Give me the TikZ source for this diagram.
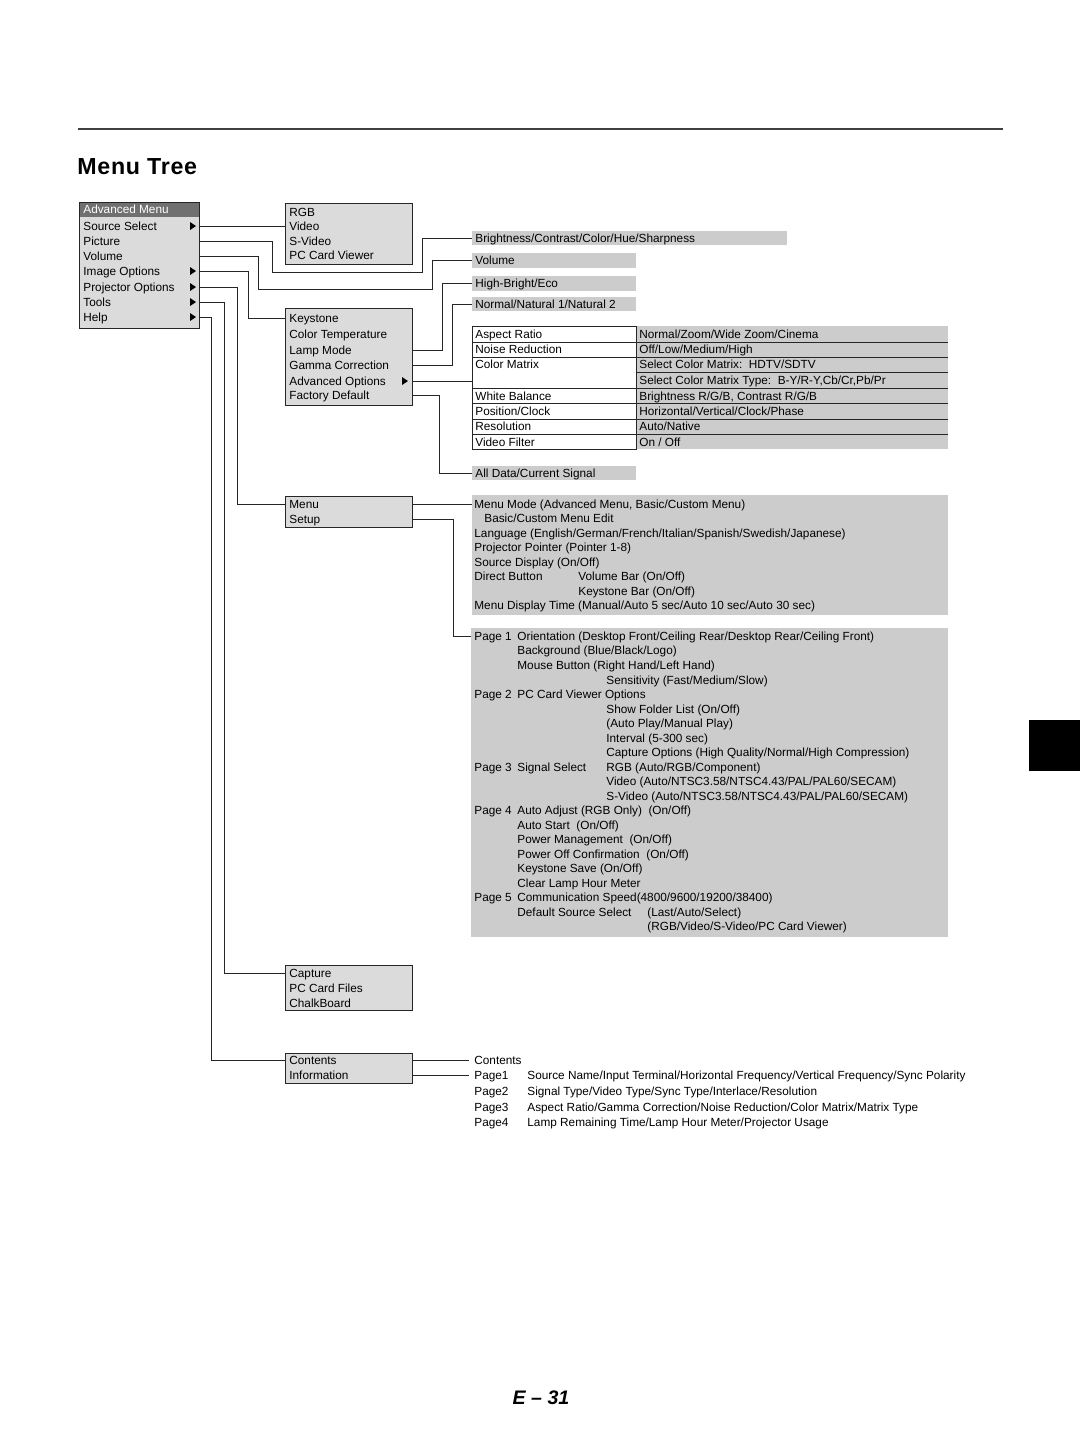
\documentclass[tikz,border=0pt]{standalone}
\usepackage{fontspec}
\setmainfont{Liberation Sans}
\newfontfamily\titlefont[LetterSpace=3]{Liberation Sans}
\usetikzlibrary{fit}

\definecolor{boxgray}{gray}{0.86}
\definecolor{bargray}{gray}{0.80}
\definecolor{headgray}{gray}{0.44}

% small submenu triangle at (x,y)
\newcommand{\submark}[2]{\fill (#1,#2-4) -- (#1+6,#2) -- (#1,#2+4) -- cycle;}

\begin{document}
\begin{tikzpicture}[x=0.5pt, y=-0.5pt,
    font=\fontsize{5.9}{7}\selectfont,
    menubox/.style={draw=black!85, fill=boxgray, inner sep=0pt, line width=0.5pt},
    bar/.style={fill=bargray, inner sep=0pt},
    item/.style={anchor=west, inner sep=0pt, text height=4.2pt, text depth=0pt},
    link/.style={draw=black!85, line width=0.5pt}]

\useasboundingbox (0,0) rectangle (1080,1441);

% page head
\draw[line width=0.6pt, black!75] (78,129) -- (1003,129);
\node[anchor=base west, inner sep=0pt, font=\titlefont\bfseries\fontsize{11.6}{14}\selectfont] (title) at (77,174) {Menu Tree};
\fill (1029,720) rectangle (1080,771);

% main menu
\node[menubox, fit={(79,202) (199,328)}] (adv) {};
\node[fill=headgray, inner sep=0pt, fit={(79.5,202.5) (198.5,217)}] (advhead) {};
\node[item, text=white] (advtitle) at (83,209.5) {Advanced Menu};
\node[item] (srcsel) at (83,226) {Source Select};
\node[item] (picture) at (83,241) {Picture};
\node[item] (volume) at (83,256) {Volume};
\node[item] (imgopt) at (83,271) {Image Options};
\node[item] (projopt) at (83,287) {Projector Options};
\node[item] (tools) at (83,302) {Tools};
\node[item] (help) at (83,317) {Help};
\foreach \y in {226,271,287,302,317} {\submark{190}{\y}}

% source select
\node[menubox, fit={(285,203) (412,264)}] (src) {};
\node[item] (rgb) at (289,212) {RGB};
\node[item] (video) at (289,226) {Video};
\node[item] (svideo) at (289,241) {S-Video};
\node[item] (pccard) at (289,255) {PC Card Viewer};

% picture / volume / lamp / gamma bars
\node[bar, fit={(472,231) (787,245)}] (brightbar) {};
\node[item] (bright) at (475,238) {Brightness/Contrast/Color/Hue/Sharpness};
\node[bar, fit={(472,253) (636,268)}] (volbar) {};
\node[item] (vol) at (475,260.5) {Volume};
\node[bar, fit={(472,276) (636,291)}] (lampbar) {};
\node[item] (hibright) at (475,283.5) {High-Bright/Eco};
\node[bar, fit={(472,297) (636,311)}] (gammabar) {};
\node[item] (natural) at (475,304) {Normal/Natural 1/Natural 2};

% image options
\node[menubox, fit={(285,308) (412,405)}] (imgbox) {};
\node[item] (keystone) at (289,318) {Keystone};
\node[item] (colortemp) at (289,334) {Color Temperature};
\node[item] (lampmode) at (289,350) {Lamp Mode};
\node[item] (gammacorr) at (289,365) {Gamma Correction};
\node[item] (advopt) at (289,381) {Advanced Options};
\node[item] (factory) at (289,395) {Factory Default};
\submark{402}{381}

% advanced options table
\node[bar, fit={(636,326) (948,449)}] (advval) {};
\node[draw=black!85, fill=white, inner sep=0pt, line width=0.5pt, fit={(472,326) (636,449)}] (advtab) {};
\foreach \y in {342,357,388,403,419,434} {\draw[line width=0.5pt, black!85] (472,\y) -- (948,\y);}
\draw[line width=0.5pt, black!85] (636,372) -- (948,372);
\node[item] (aspect) at (475,334) {Aspect Ratio};
\node[item] (noise) at (475,349) {Noise Reduction};
\node[item] (cmatrix) at (475,364) {Color Matrix};
\node[item] (wbal) at (475,396) {White Balance};
\node[item] (posclk) at (475,411) {Position/Clock};
\node[item] (resol) at (475,426) {Resolution};
\node[item] (vfilter) at (475,442) {Video Filter};
\node[item] (aspectv) at (639,334) {Normal/Zoom/Wide Zoom/Cinema};
\node[item] (noisev) at (639,349) {Off/Low/Medium/High};
\node[item] (cmatrixv) at (639,364) {Select Color Matrix:\ \ HDTV/SDTV};
\node[item] (cmtypev) at (639,380) {Select Color Matrix Type:\ \ B-Y/R-Y,Cb/Cr,Pb/Pr};
\node[item] (wbalv) at (639,396) {Brightness R/G/B, Contrast R/G/B};
\node[item] (posclkv) at (639,411) {Horizontal/Vertical/Clock/Phase};
\node[item] (resolv) at (639,426) {Auto/Native};
\node[item] (vfilterv) at (639,442) {On / Off};

\node[bar, fit={(472,466) (636,480)}] (allbar) {};
\node[item] (alldata) at (475,473) {All Data/Current Signal};

% projector options
\node[menubox, fit={(285,496) (412,527)}] (projbox) {};
\node[item] (menu) at (289,504) {Menu};
\node[item] (setup) at (289,519) {Setup};

\node[bar, fit={(472,495) (948,615)}] (menubar) {};
\node[item] (menumode) at (474,504) {Menu Mode (Advanced Menu, Basic/Custom Menu)};
\node[item] (menuedit) at (484,518) {Basic/Custom Menu Edit};
\node[item] (language) at (474,533) {Language (English/German/French/Italian/Spanish/Swedish/Japanese)};
\node[item] (pointer) at (474,547) {Projector Pointer (Pointer 1-8)};
\node[item] (srcdisp) at (474,562) {Source Display (On/Off)};
\node[item] (direct) at (474,576) {Direct Button};
\node[item] (dvolume) at (578,576) {Volume Bar (On/Off)};
\node[item] (dkeystone) at (578,591) {Keystone Bar (On/Off)};
\node[item] (disptime) at (474,605) {Menu Display Time (Manual/Auto 5 sec/Auto 10 sec/Auto 30 sec)};

\node[bar, fit={(471,628) (948,937)}] (setupbar) {};
\node[item] (pg1) at (474,636) {Page 1};
\node[item] (orient) at (517,636) {Orientation (Desktop Front/Ceiling Rear/Desktop Rear/Ceiling Front)};
\node[item] (backgr) at (517,650) {Background (Blue/Black/Logo)};
\node[item] (mouse) at (517,665) {Mouse Button (Right Hand/Left Hand)};
\node[item] (sens) at (606,680) {Sensitivity (Fast/Medium/Slow)};
\node[item] (pg2) at (474,694) {Page 2};
\node[item] (pcview) at (517,694) {PC Card Viewer Options};
\node[item] (folder) at (606,709) {Show Folder List (On/Off)};
\node[item] (autoplay) at (606,723) {(Auto Play/Manual Play)};
\node[item] (interval) at (606,738) {Interval (5-300 sec)};
\node[item] (capopt) at (606,752) {Capture Options (High Quality/Normal/High Compression)};
\node[item] (pg3) at (474,767) {Page 3};
\node[item] (sigsel) at (517,767) {Signal Select};
\node[item] (sigrgb) at (606,767) {RGB (Auto/RGB/Component)};
\node[item] (sigvideo) at (606,781) {Video (Auto/NTSC3.58/NTSC4.43/PAL/PAL60/SECAM)};
\node[item] (sigsvideo) at (606,796) {S-Video (Auto/NTSC3.58/NTSC4.43/PAL/PAL60/SECAM)};
\node[item] (pg4) at (474,810) {Page 4};
\node[item] (autoadj) at (517,810) {Auto Adjust (RGB Only)\ \ (On/Off)};
\node[item] (autostart) at (517,825) {Auto Start\ \ (On/Off)};
\node[item] (powermgmt) at (517,839) {Power Management\ \ (On/Off)};
\node[item] (poweroff) at (517,854) {Power Off Confirmation\ \ (On/Off)};
\node[item] (keysave) at (517,868) {Keystone Save (On/Off)};
\node[item] (clearlamp) at (517,883) {Clear Lamp Hour Meter};
\node[item] (pg5) at (474,897) {Page 5};
\node[item] (commspeed) at (517,897) {Communication Speed(4800/9600/19200/38400)};
\node[item] (defsrc) at (517,912) {Default Source Select};
\node[item] (defsrcval) at (647,912) {(Last/Auto/Select)};
\node[item] (defsrclist) at (647,926) {(RGB/Video/S-Video/PC Card Viewer)};

% tools
\node[menubox, fit={(285,965) (412,1010)}] (toolbox) {};
\node[item] (capture) at (289,973) {Capture};
\node[item] (pcfiles) at (289,988) {PC Card Files};
\node[item] (chalk) at (289,1003) {ChalkBoard};

% help
\node[menubox, fit={(285,1053) (412,1083)}] (helpbox) {};
\node[item] (contents) at (289,1060) {Contents};
\node[item] (info) at (289,1075) {Information};

\node[item] (ctitle) at (474,1060) {Contents};
\node[item] (ipage1) at (474,1075) {Page1};
\node[item] (ipage2) at (474,1091) {Page2};
\node[item] (ipage3) at (474,1107) {Page3};
\node[item] (ipage4) at (474,1122) {Page4};
\node[item] (idesc1) at (527,1075) {Source Name/Input Terminal/Horizontal Frequency/Vertical Frequency/Sync Polarity};
\node[item] (idesc2) at (527,1091) {Signal Type/Video Type/Sync Type/Interlace/Resolution};
\node[item] (idesc3) at (527,1107) {Aspect Ratio/Gamma Correction/Noise Reduction/Color Matrix/Matrix Type};
\node[item] (idesc4) at (527,1122) {Lamp Remaining Time/Lamp Hour Meter/Projector Usage};

% connectors from the main menu
\draw[link] (adv.east |- srcsel) -- (src.west |- srcsel);
\draw[link] (adv.east |- picture) -| (272,272) -| ([xshift=-24.5pt]brightbar.west) -- (brightbar.west);
\draw[link] (adv.east |- volume) -| (258,289) -| ([xshift=-19.5pt]volbar.west) -- (volbar.west);
\draw[link] (adv.east |- imgopt) -| (248,318) -- (imgbox.west |- keystone);
\draw[link] (adv.east |- projopt) -| (237,504) -- (projbox.west |- menu);
\draw[link] (adv.east |- tools) -| (224,973) -- (toolbox.west |- capture);
\draw[link] (adv.east |- help) -| (211,1060) -- (helpbox.west |- contents);

% connectors from the submenus
\draw[link] (imgbox.east |- lampmode) -| ([xshift=-14.5pt]lampbar.west) -- (lampbar.west);
\draw[link] (imgbox.east |- gammacorr) -| ([xshift=-9.5pt]gammabar.west) -- (gammabar.west);
\draw[link] (imgbox.east |- advopt) -- (advtab.west |- advopt);
\draw[link] (imgbox.east |- factory) -| ([xshift=-16pt]allbar.west) -- (allbar.west);
\draw[link] (projbox.east |- menu) -- (menubar.west |- menumode);
\draw[link] (projbox.east |- setup) -| (453,636) -- (setupbar.west |- pg1);
\draw[link] (helpbox.east |- contents) -- ([xshift=-2.5pt]ctitle.west);
\draw[link] (helpbox.east |- info) -- ([xshift=-2.5pt]ipage1.west);

% page number
\node[font=\bfseries\itshape\fontsize{9.8}{12}\selectfont, inner sep=0pt] (pagenum) at (541,1398) {E -- 31};

\end{tikzpicture}
\end{document}
